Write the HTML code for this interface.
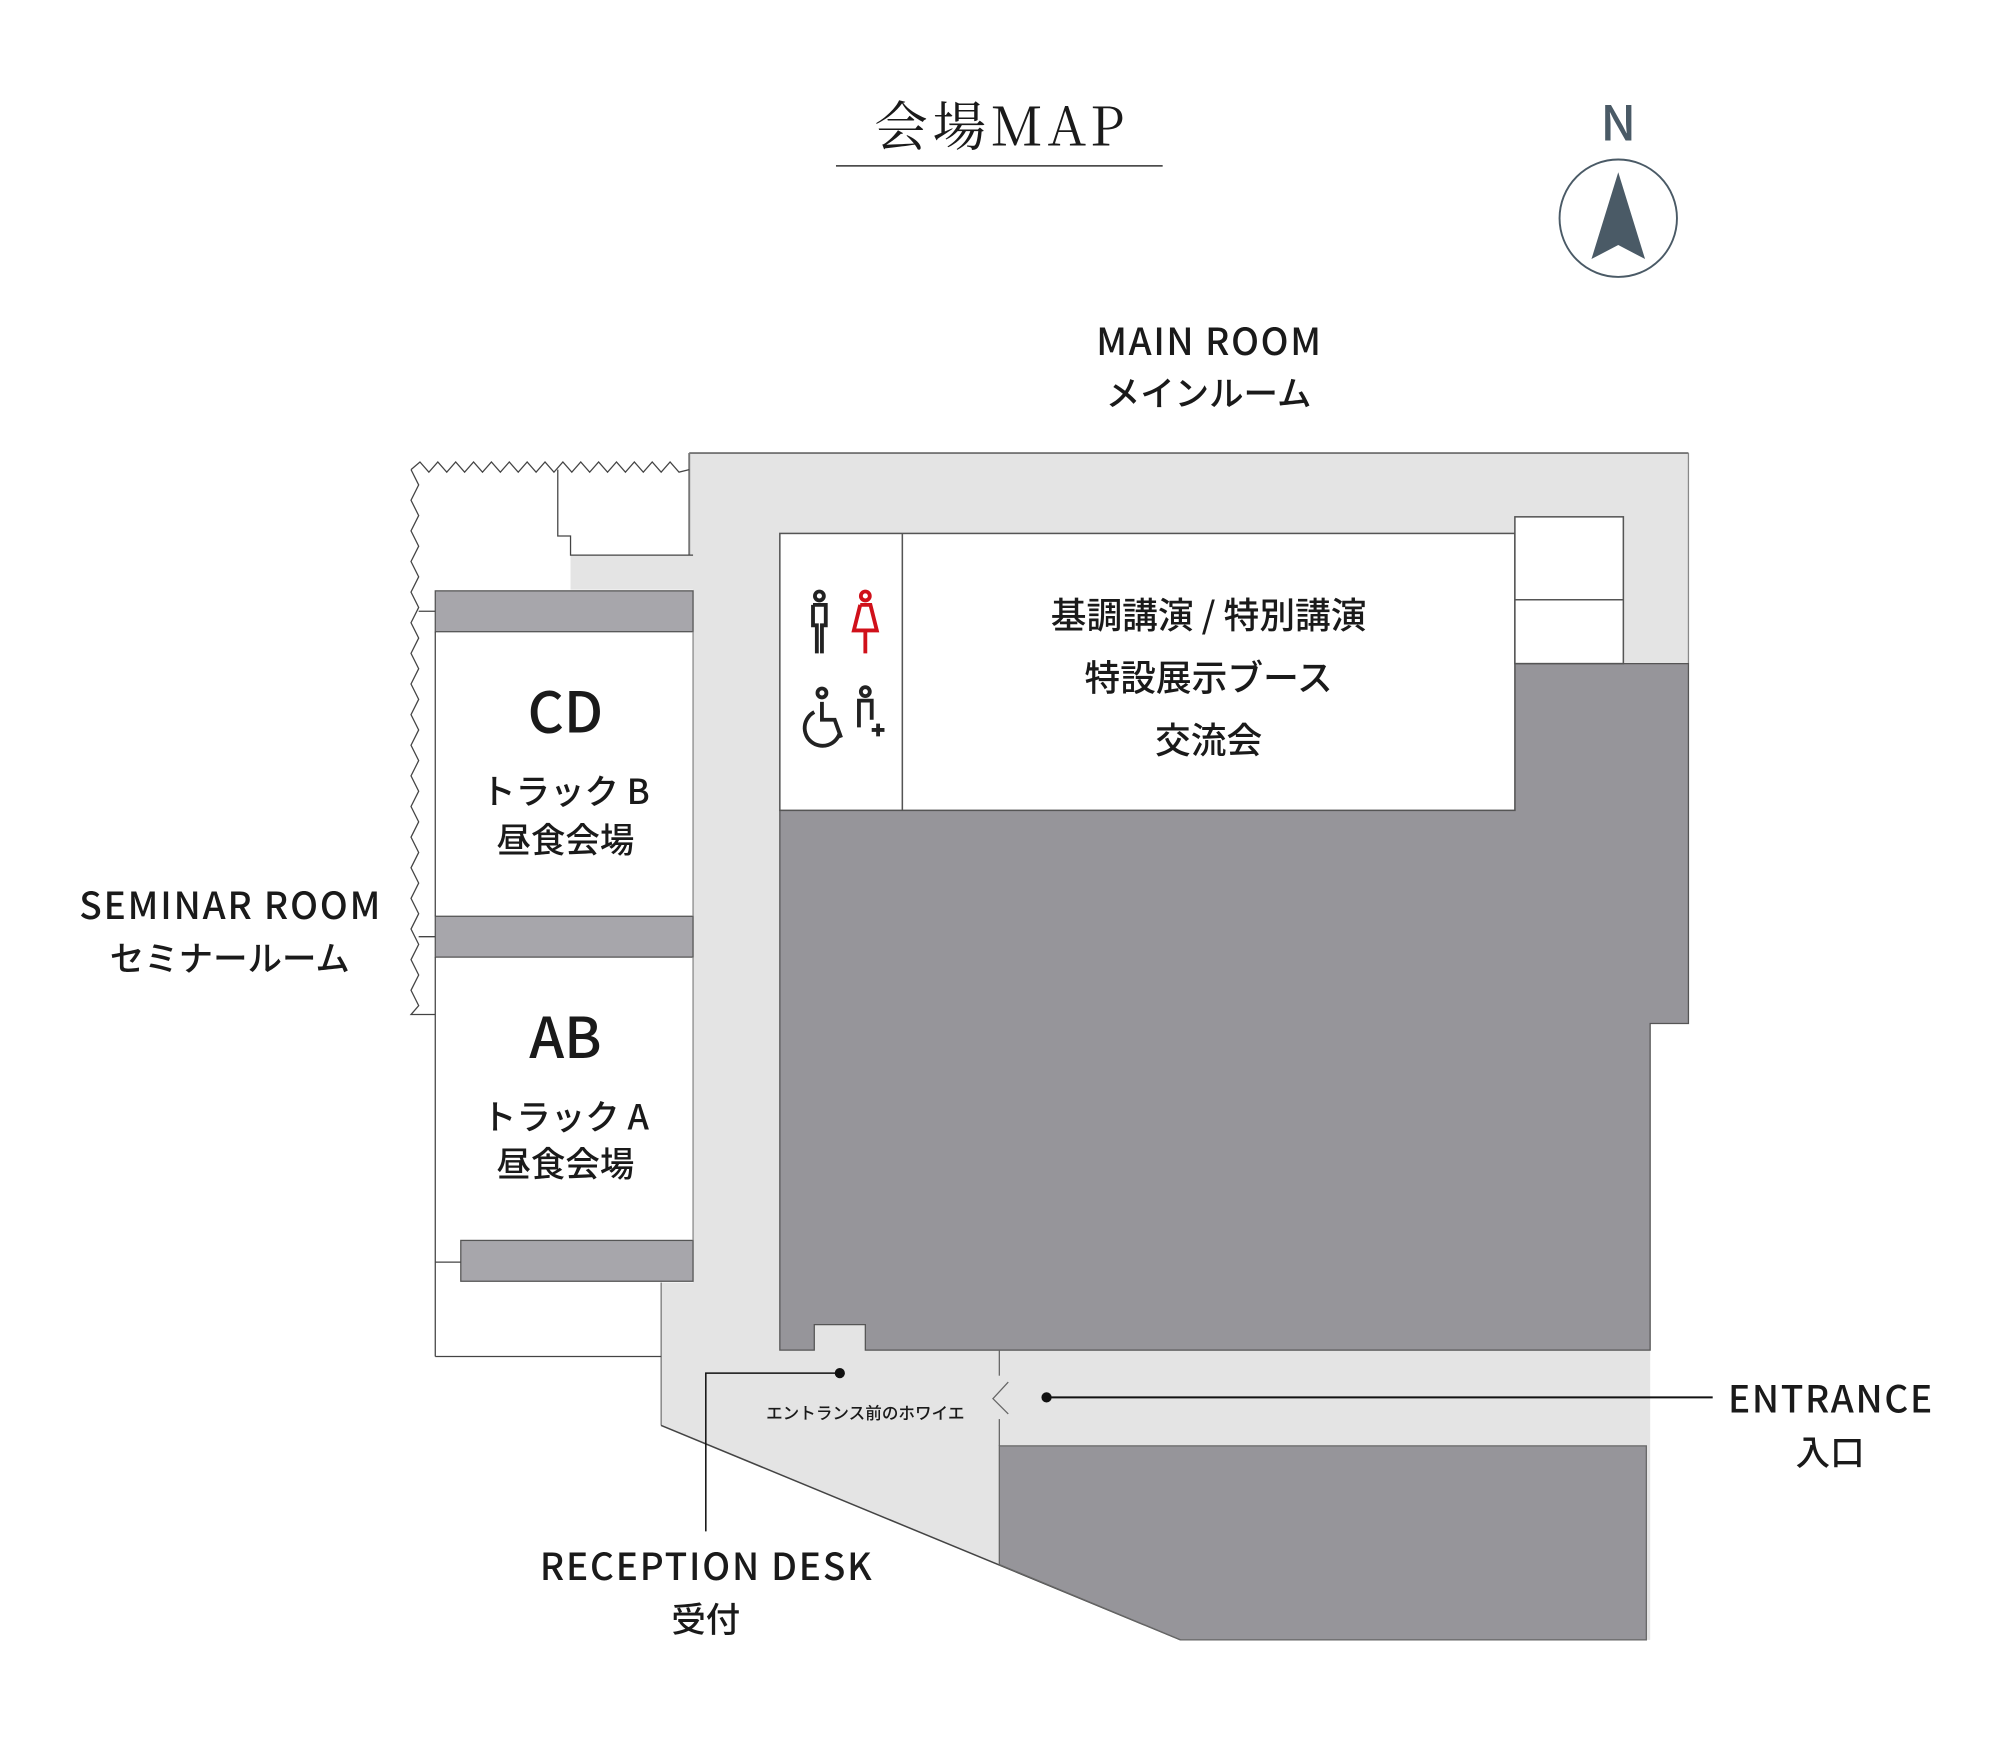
<!DOCTYPE html>
<html><head><meta charset="utf-8"><style>
html,body{margin:0;padding:0;background:#fff;}
svg{display:block}
text{font-family:"Noto Sans CJK JP","Liberation Sans",sans-serif;font-weight:500;fill:#1a1a1a;text-anchor:middle}
.j{font-family:"Noto Sans CJK JP","Liberation Sans",sans-serif;font-weight:500}
</style></head><body>
<svg width="2001" height="1743" viewBox="0 0 1560 1359" xmlns="http://www.w3.org/2000/svg">
<g transform="scale(0.995)">
<!-- title -->
<text x="783" y="114" style="font-family:'Noto Serif CJK SC','Liberation Serif',serif;font-weight:400" font-size="42" textLength="196">会場MAP</text>
<line x1="655" y1="130" x2="911" y2="130" stroke="#333" stroke-width="1.2"/>
<!-- north -->
<text x="1268" y="110" font-size="38" style="fill:#4a5a66">N</text>
<circle cx="1268" cy="171" r="46" fill="none" stroke="#4a5a66" stroke-width="1.5"/>
<polygon points="1268,135 1247,203 1268,192 1289,203" fill="#4a5a66"/>
<!-- main room label -->
<text x="947" y="278" font-size="29" textLength="176">MAIN ROOM</text>
<text x="947" y="318" class="j" font-size="27">メインルーム</text>

<!-- light floor -->
<polygon points="540,355 1323,355 1323,802 1293,802 1293,1285 925,1285 518,1117 518,1005 543,1005 543,462 447,462 447,435 540,435" fill="#e4e4e4"/>
<line x1="540" y1="355" x2="1323" y2="355" stroke="#777" stroke-width="1.5"/>
<line x1="1323" y1="355" x2="1323" y2="520" stroke="#888" stroke-width="1"/>
<line x1="540" y1="355" x2="540" y2="435" stroke="#777" stroke-width="1.5"/>
<line x1="518" y1="1005" x2="518" y2="1117" stroke="#777" stroke-width="1"/>
<line x1="518" y1="1117" x2="925" y2="1285" stroke="#444" stroke-width="1.2"/>

<!-- dark main -->
<polygon points="611,635 1187,635 1187,520 1323,520 1323,802 1293,802 1293,1058 678,1058 678,1038 638,1038 638,1058 611,1058" fill="#96959a" stroke="#555" stroke-width="1"/>
<!-- dark lower -->
<polygon points="783,1133 1290,1133 1290,1285 925,1285 783,1226" fill="#96959a" stroke="#666" stroke-width="1"/>
<line x1="783" y1="1058" x2="783" y2="1078" stroke="#666" stroke-width="1"/>
<line x1="783" y1="1112" x2="783" y2="1133" stroke="#666" stroke-width="1"/>
<polyline points="790,1083 778,1096 790,1108" fill="none" stroke="#666" stroke-width="1"/>

<!-- white rooms -->
<rect x="611" y="418" width="576" height="217" fill="#fff" stroke="#555" stroke-width="1.2"/>
<line x1="707" y1="418" x2="707" y2="635" stroke="#555" stroke-width="1.2"/>
<rect x="1187" y="405" width="85" height="115" fill="#fff" stroke="#555" stroke-width="1.2"/>
<line x1="1187" y1="470" x2="1272" y2="470" stroke="#555" stroke-width="1.2"/>

<!-- seminar -->
<polyline points="322,368 329,362 336,370 343,362 350,370 357,362 364,370 371,362 378,370 385,362 392,370 399,362 406,370 413,362 420,370 427,362 434,370 441,362 448,370 455,362 462,370 469,362 476,370 483,362 490,370 497,362 504,370 511,362 518,370 525,362 532,370 540,368" fill="none" stroke="#444" stroke-width="1"/>
<polyline points="322,368 328,380 322,392 328,404 322,416 328,428 322,440 328,452 322,464 328,476 322,488 328,500 322,512 328,524 322,536 328,548 322,560 328,572 322,584 328,596 322,608 328,620 322,632 328,644 322,656 328,668 322,680 328,692 322,704 328,716 322,728 328,740 322,752 328,764 322,776 328,788 322,795 341,795" fill="none" stroke="#444" stroke-width="1"/>
<polyline points="437,368 437,420 447,420 447,435 543,435" fill="none" stroke="#444" stroke-width="1"/>
<rect x="341" y="463" width="202" height="32" fill="#a7a6ab" stroke="#555" stroke-width="1"/>
<rect x="341" y="718" width="202" height="32" fill="#a7a6ab" stroke="#555" stroke-width="1"/>
<rect x="361" y="972" width="182" height="32" fill="#a7a6ab" stroke="#555" stroke-width="1"/>
<line x1="341" y1="495" x2="341" y2="718" stroke="#444"/>
<line x1="341" y1="750" x2="341" y2="1063" stroke="#444"/>
<line x1="341" y1="1063" x2="518" y2="1063" stroke="#444"/>
<line x1="543" y1="495" x2="543" y2="718" stroke="#888"/>
<line x1="543" y1="750" x2="543" y2="972" stroke="#888"/>
<line x1="328" y1="479" x2="341" y2="479" stroke="#444"/>
<line x1="328" y1="734" x2="341" y2="734" stroke="#444"/>
<line x1="341" y1="989" x2="361" y2="989" stroke="#444"/>

<text x="443" y="574" font-size="44">CD</text>
<text x="443" y="630" class="j" font-size="27">トラック B</text>
<text x="443" y="668" class="j" font-size="27">昼食会場</text>
<text x="443" y="829" font-size="44">AB</text>
<text x="443" y="885" class="j" font-size="27">トラック A</text>
<text x="443" y="922" class="j" font-size="27">昼食会場</text>
<text x="180" y="720" font-size="29" textLength="236">SEMINAR ROOM</text>
<text x="180" y="761" class="j" font-size="27">セミナールーム</text>

<text x="947" y="492" class="j" font-size="28">基調講演 / 特別講演</text>
<text x="947" y="541" class="j" font-size="28">特設展示ブース</text>
<text x="947" y="590" class="j" font-size="28">交流会</text>

<!-- toilet icons -->
<g fill="none" stroke="#222" stroke-width="3">
<circle cx="642" cy="467" r="3.5"/>
<path d="M637,474 h10 v16 h-3 v22 M637,474 v16 h3 v22"/>
<circle cx="644" cy="543" r="3.5"/>
<path d="M644,550 v14 h10 l5,14"/>
<path d="M638,558 a14,14 0 1 0 20,16"/>
<circle cx="678" cy="542" r="3.5"/>
<path d="M673,570 v-21 h10 v15 M683,572 h10 M688,567 v10"/>
</g>
<g fill="none" stroke="#d0101a" stroke-width="3">
<circle cx="678" cy="467" r="3.5"/>
<path d="M674,474 h8 l5,20 h-18 l5,-20 M678,494 v18"/>
</g>

<!-- reception -->
<circle cx="658" cy="1076" r="4" fill="#111"/>
<polyline points="658,1076 553,1076 553,1200" fill="none" stroke="#111" stroke-width="1.2"/>
<text x="553" y="1238" font-size="29" textLength="260">RECEPTION DESK</text>
<text x="553" y="1279" class="j" font-size="27">受付</text>
<text x="678" y="1112" class="j" font-size="13">エントランス前のホワイエ</text>

<!-- entrance -->
<circle cx="820" cy="1095" r="4" fill="#111"/>
<line x1="820" y1="1095" x2="1342" y2="1095" stroke="#111" stroke-width="1.5"/>
<text x="1434" y="1107" font-size="29" textLength="160">ENTRANCE</text>
<text x="1434" y="1148" class="j" font-size="27">入口</text>
</g>
</svg>
</body></html>
